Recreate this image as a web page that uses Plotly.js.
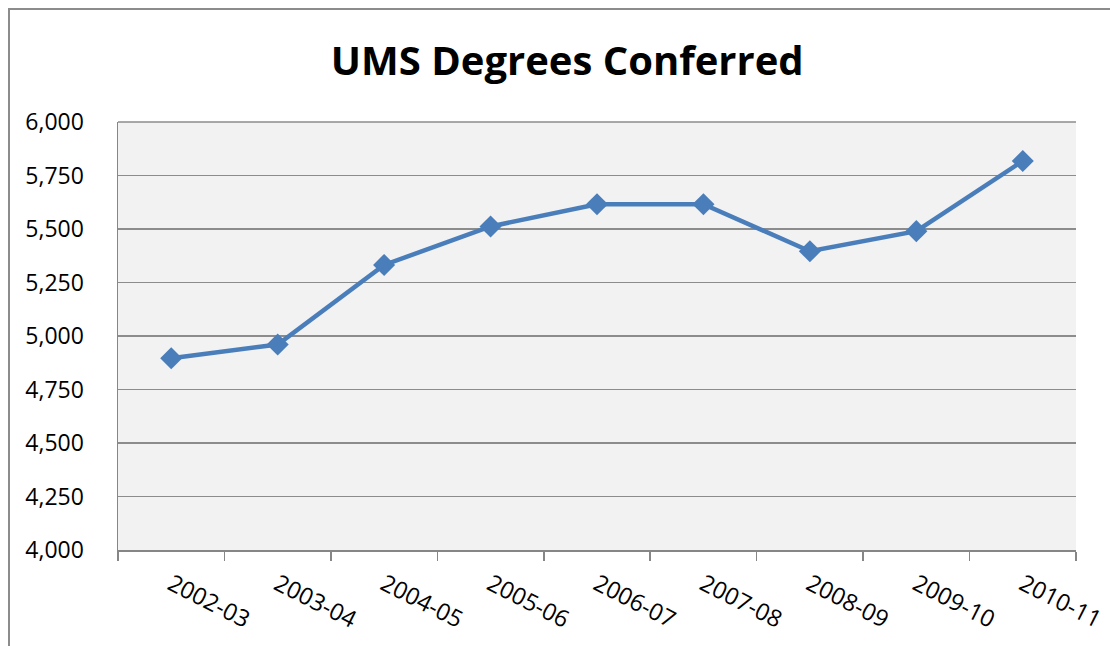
<!DOCTYPE html>
<html>
<head>
<meta charset="utf-8">
<script src="https://cdn.plot.ly/plotly-3.0.1.min.js"></script>
<style>
  html, body { margin: 0; padding: 0; background: #ffffff; overflow: hidden; }
  #chart { position: absolute; left: 0; top: 0; width: 1110px; height: 646px; }
  #frame { position: absolute; left: 8px; top: 8px; width: 1200px; height: 700px;
           border-left: 2px solid #8c8c8c; border-top: 2px solid #8c8c8c; pointer-events: none; }
</style>
</head>
<body>
<div id="chart"></div>
<div id="frame"></div>
<script>
const years = ['2002-03', '2003-04', '2004-05', '2005-06', '2006-07', '2007-08', '2008-09', '2009-10', '2010-11'];
const degrees = [4896, 4960, 5332, 5512, 5616, 5616, 5396, 5490, 5818];
const yTicks = [4000, 4250, 4500, 4750, 5000, 5250, 5500, 5750, 6000];
const titleText = 'UMS Degrees Conferred';

const font = '"Open Sans", "Noto Sans", sans-serif';

const trace = {
  x: years,
  y: degrees,
  type: 'scatter',
  mode: 'lines+markers',
  line: { color: '#4a7ebb', width: 4.5 },
  marker: { symbol: 'diamond', size: 17, color: '#4a7ebb', line: { width: 0 } },
  hoverinfo: 'x+y',
  showlegend: false
};

const layout = {
  width: 1110,
  height: 646,
  paper_bgcolor: '#ffffff',
  plot_bgcolor: '#f2f2f2',
  margin: { l: 118, r: 34, t: 122, b: 96 },
  title: {
    text: '<b>' + titleText + '</b>',
    font: { family: font, size: 40, color: '#000000' },
    xref: 'container', yref: 'container',
    x: 0.511, y: 1 - 61 / 646,
    xanchor: 'center', yanchor: 'middle'
  },
  xaxis: {
    type: 'category',
    range: [-0.5, 8.5],
    tickson: 'boundaries',
    ticks: 'outside',
    ticklen: 9,
    tickwidth: 1.5,
    tickcolor: '#868686',
    showline: true,
    linecolor: '#868686',
    linewidth: 1.5,
    showgrid: false,
    zeroline: false,
    tickangle: 27,
    ticklabelstandoff: 10,
    tickfont: { family: font, size: 23.5, color: '#000000' }
  },
  xaxis2: {
    overlaying: 'x',
    anchor: 'y',
    range: [0, 9],
    tickmode: 'linear',
    tick0: 0,
    dtick: 1,
    ticks: 'inside',
    ticklen: 9,
    tickwidth: 1.5,
    tickcolor: '#868686',
    showticklabels: false,
    showgrid: false,
    showline: false,
    zeroline: false
  },
  yaxis: {
    range: [4000, 6000],
    tickvals: yTicks,
    tickformat: ',d',
    showgrid: true,
    gridcolor: '#8c8c8c',
    gridwidth: 1.5,
    showline: true,
    linecolor: '#868686',
    linewidth: 1.5,
    mirror: false,
    zeroline: false,
    ticks: '',
    ticklabelstandoff: 28,
    tickfont: { family: font, size: 23, color: '#000000' }
  },
  shapes: [{
    type: 'line', xref: 'paper', yref: 'paper',
    x0: 0, x1: 1, y0: 1, y1: 1,
    line: { color: '#8c8c8c', width: 1.5 }
  }]
};

Plotly.newPlot('chart', [trace], layout, { displayModeBar: false, staticPlot: true });
</script>
</body>
</html>
